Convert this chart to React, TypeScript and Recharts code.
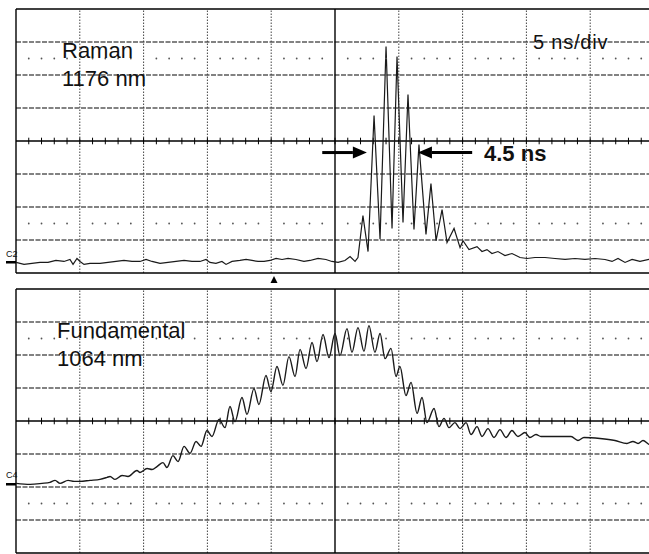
import React from 'react'
import { LineChart, Line, XAxis, YAxis, ReferenceLine, ReferenceDot } from 'recharts'

// time in ns (0 = screen centre, 5 ns/div), level in divisions from the centre line
const ramanTime = [
  -25.0, -24.37, -23.75, -23.12, -22.49, -21.87, -21.24, -20.77, -20.53, -20.22,
  -19.98, -19.67, -19.2, -18.42, -17.79, -17.16, -16.54, -15.91, -15.28, -14.81,
  -14.34, -13.71, -13.09, -12.46, -11.83, -11.21, -10.58, -10.11, -9.8, -9.33,
  -8.86, -8.54, -8.07, -7.45, -6.97, -6.5, -6.03, -5.56, -5.09, -4.62,
  -4.15, -3.68, -3.06, -2.43, -1.96, -1.33, -0.71, -0.24, 0.24, 0.78,
  1.18, 1.57, 1.8, 2.19, 2.59, 3.06, 3.53, 4.0, 4.47, 4.86,
  5.33, 5.72, 6.19, 6.58, 7.13, 7.52, 7.92, 8.39, 8.78, 9.33,
  9.8, 10.03, 10.5, 11.13, 11.52, 11.91, 12.3, 12.77, 13.32, 13.87,
  14.5, 15.05, 15.67, 16.46, 17.24, 18.03, 18.81, 19.59, 20.38, 21.16,
  21.71, 22.18, 22.73, 23.28, 23.9, 24.61, 25,
]
const ramanLevel = [
  -3.68, -3.74, -3.71, -3.68, -3.68, -3.62, -3.65, -3.59, -3.74, -3.56,
  -3.65, -3.74, -3.71, -3.71, -3.68, -3.65, -3.62, -3.65, -3.65, -3.59,
  -3.65, -3.71, -3.68, -3.65, -3.62, -3.65, -3.65, -3.59, -3.68, -3.71,
  -3.65, -3.74, -3.65, -3.62, -3.59, -3.62, -3.65, -3.65, -3.62, -3.56,
  -3.59, -3.56, -3.59, -3.65, -3.62, -3.56, -3.59, -3.65, -3.68, -3.62,
  -3.5, -3.65, -3.53, -2.26, -3.35, 0.77, -2.98, 2.86, -2.65, 2.56,
  -2.47, 1.41, -2.68, -0.11, -2.83, -1.29, -3.02, -2.08, -3.08, -2.65,
  -3.23, -3.02, -3.29, -3.2, -3.35, -3.29, -3.41, -3.35, -3.47, -3.41,
  -3.53, -3.56, -3.53, -3.53, -3.56, -3.59, -3.56, -3.59, -3.56, -3.59,
  -3.65, -3.56, -3.68, -3.59, -3.65, -3.59, -3.62,
]

const fundTime = [
  -25.0, -23.9, -22.96, -22.34, -21.94, -21.55, -20.92, -20.45, -19.98, -19.2,
  -18.42, -17.87, -17.63, -17.24, -16.69, -16.22, -15.52, -15.28, -14.73, -14.34,
  -13.95, -13.48, -13.17, -12.7, -12.3, -11.83, -11.36, -10.89, -10.5, -10.03,
  -9.64, -9.09, -8.62, -8.23, -7.84, -7.29, -6.9, -6.35, -5.96, -5.41,
  -5.02, -4.55, -4.08, -3.61, -3.13, -2.74, -2.27, -1.8, -1.41, -0.94,
  -0.47, 0, 0.39, 0.94, 1.33, 1.8, 2.27, 2.66, 3.13, 3.53,
  3.92, 4.39, 4.78, 5.09, 5.56, 5.96, 6.43, 6.82, 7.21, 7.76,
  8.15, 8.54, 8.93, 9.4, 9.8, 10.27, 10.66, 11.13, 11.52, 11.99,
  12.46, 12.93, 13.4, 13.87, 14.34, 14.89, 15.28, 15.75, 16.14, 17.32,
  18.5, 19.04, 19.51, 20.77, 21.94, 22.88, 23.35, 23.75, 24.14, 24.61,
  25,
]
const fundLevel = [
  -1.89, -1.92, -1.89, -1.86, -1.8, -1.89, -1.8, -1.83, -1.83, -1.8,
  -1.77, -1.71, -1.68, -1.77, -1.65, -1.68, -1.5, -1.56, -1.44, -1.47,
  -1.38, -1.26, -1.41, -1.05, -1.23, -0.77, -0.98, -0.62, -0.77, -0.29,
  -0.47, 0.05, -0.2, 0.44, -0.02, 0.71, 0.2, 0.98, 0.5, 1.38,
  0.89, 1.65, 1.08, 1.95, 1.35, 2.17, 1.59, 2.38, 1.8, 2.62,
  1.92, 2.65, 1.98, 2.8, 2.08, 2.83, 2.11, 2.89, 2.08, 2.65,
  1.89, 2.2, 1.35, 1.65, 0.77, 1.17, 0.23, 0.71, -0.05, 0.38,
  -0.17, 0.08, -0.2, -0.05, -0.23, -0.05, -0.41, -0.17, -0.47, -0.23,
  -0.5, -0.26, -0.5, -0.29, -0.47, -0.35, -0.5, -0.41, -0.47, -0.47,
  -0.47, -0.59, -0.5, -0.53, -0.59, -0.68, -0.62, -0.68, -0.59, -0.71,
  -0.74,
]

// graticule
const divTimes = [-20, -15, -10, -5, 5, 10, 15, 20]
const divLevels = [3, 2, 1, -1, -2, -3]
const dotLevels = [2.5, -2.5]
const minorTimes = Array.from({ length: 49 }, (_, i) => i - 24)

// FWHM marker (ns) and arrow positions
const fwhmLabel = '4.5 ns'
const arrowLevel = -0.35
const leftArrow = [-1.0, 2.5]
const rightArrow = [10.75, 6.5]

const ramanData = ramanTime.map((t, i) => ({ t, v: ramanLevel[i] }))
const fundData = fundTime.map((t, i) => ({ t, v: fundLevel[i] }))

const W = 660
const H = 282
const margin = { top: 9, right: 6, bottom: 9, left: 16 }

const Arrow = (p: any) => {
  const { x1, y1, x2, y2 } = p
  const dir = Math.sign(x2 - x1)
  const hl = 14
  const hw = 6
  return (
    <g>
      <line x1={x1} y1={y1} x2={x2 - dir * hl} y2={y2} stroke="#000" strokeWidth={3} />
      <polygon points={`${x2},${y2} ${x2 - dir * hl},${y2 - hw} ${x2 - dir * hl},${y2 + hw}`} fill="#000" />
    </g>
  )
}

function Graticule() {
  return (
    <>
      {divLevels.map(v => (
        <ReferenceLine key={'h' + v} y={v} stroke="#5a5a5a" strokeWidth={1.3} strokeDasharray="5 1.5" />
      ))}
      {divTimes.map(t => (
        <ReferenceLine key={'v' + t} x={t} stroke="#444" strokeWidth={1} strokeDasharray="1.5 1.5" />
      ))}
      {dotLevels.map(v =>
        minorTimes
          .filter(t => t % 5 !== 0)
          .map(t => <ReferenceDot key={'d' + v + '_' + t} x={t} y={v} r={0.9} fill="#555" stroke="none" />)
      )}
      <ReferenceLine y={0} stroke="#000" strokeWidth={1.4} />
      {minorTimes.map(t => (
        <ReferenceLine key={'k' + t} segment={[{ x: t, y: -0.1 }, { x: t, y: 0.1 }]} stroke="#000" strokeWidth={1} />
      ))}
      <ReferenceLine x={0} stroke="#000" strokeWidth={1.4} />
      <ReferenceLine y={4} stroke="#000" strokeWidth={1.6} />
      <ReferenceLine y={-4} stroke="#000" strokeWidth={1.6} />
      <ReferenceLine x={-25} stroke="#000" strokeWidth={1.4} />
    </>
  )
}

export default function App() {
  return (
    <div style={{ position: 'absolute', left: 0, top: 0, width: 649, height: 554, overflow: 'hidden', background: '#fff' }}>
      <div style={{ position: 'absolute', left: 0, top: 0 }}>
        <LineChart width={W} height={H} data={ramanData} margin={margin}>
          <XAxis type="number" dataKey="t" domain={[-25, 25]} hide allowDataOverflow />
          <YAxis type="number" domain={[-4, 4]} hide allowDataOverflow />
          {Graticule()}
          <Line dataKey="v" type="linear" stroke="#1a1a1a" strokeWidth={1.2} dot={false} isAnimationActive={false} />
          <ReferenceLine segment={[{ x: leftArrow[0], y: arrowLevel }, { x: leftArrow[1], y: arrowLevel }]} shape={Arrow} />
          <ReferenceLine segment={[{ x: rightArrow[0], y: arrowLevel }, { x: rightArrow[1], y: arrowLevel }]} shape={Arrow} />
        </LineChart>
      </div>
      <div style={{ position: 'absolute', left: 0, top: 280 }}>
        <LineChart width={W} height={H} data={fundData} margin={margin}>
          <XAxis type="number" dataKey="t" domain={[-25, 25]} hide allowDataOverflow />
          <YAxis type="number" domain={[-4, 4]} hide allowDataOverflow />
          {Graticule()}
          <Line dataKey="v" type="monotone" stroke="#1a1a1a" strokeWidth={1.4} dot={false} isAnimationActive={false} />
        </LineChart>
      </div>
      <svg width={649} height={554} style={{ position: 'absolute', left: 0, top: 0, pointerEvents: 'none' }}
        fontFamily="'Liberation Sans', Arial, sans-serif" fill="#111">
        <text x={62} y={58} fontSize={22}>Raman</text>
        <text x={62} y={86} fontSize={22}>1176 nm</text>
        <text x={533} y={49} fontSize={20} letterSpacing={0.8}>5 ns/div</text>
        <text x={484} y={161} fontSize={22} fontWeight="bold">{fwhmLabel}</text>
        <text x={57} y={338} fontSize={22}>Fundamental</text>
        <text x={57} y={366} fontSize={22}>1064 nm</text>
        <text x={6} y={257} fontSize={9}>C2</text>
        <rect x={6} y={261} width={10} height={2.5} fill="#000" />
        <text x={6} y={478} fontSize={9}>C4</text>
        <rect x={6} y={483} width={10} height={2.5} fill="#000" />
        <polygon points="274,276 270.5,283 277.5,283" fill="#000" />
      </svg>
    </div>
  )
}
